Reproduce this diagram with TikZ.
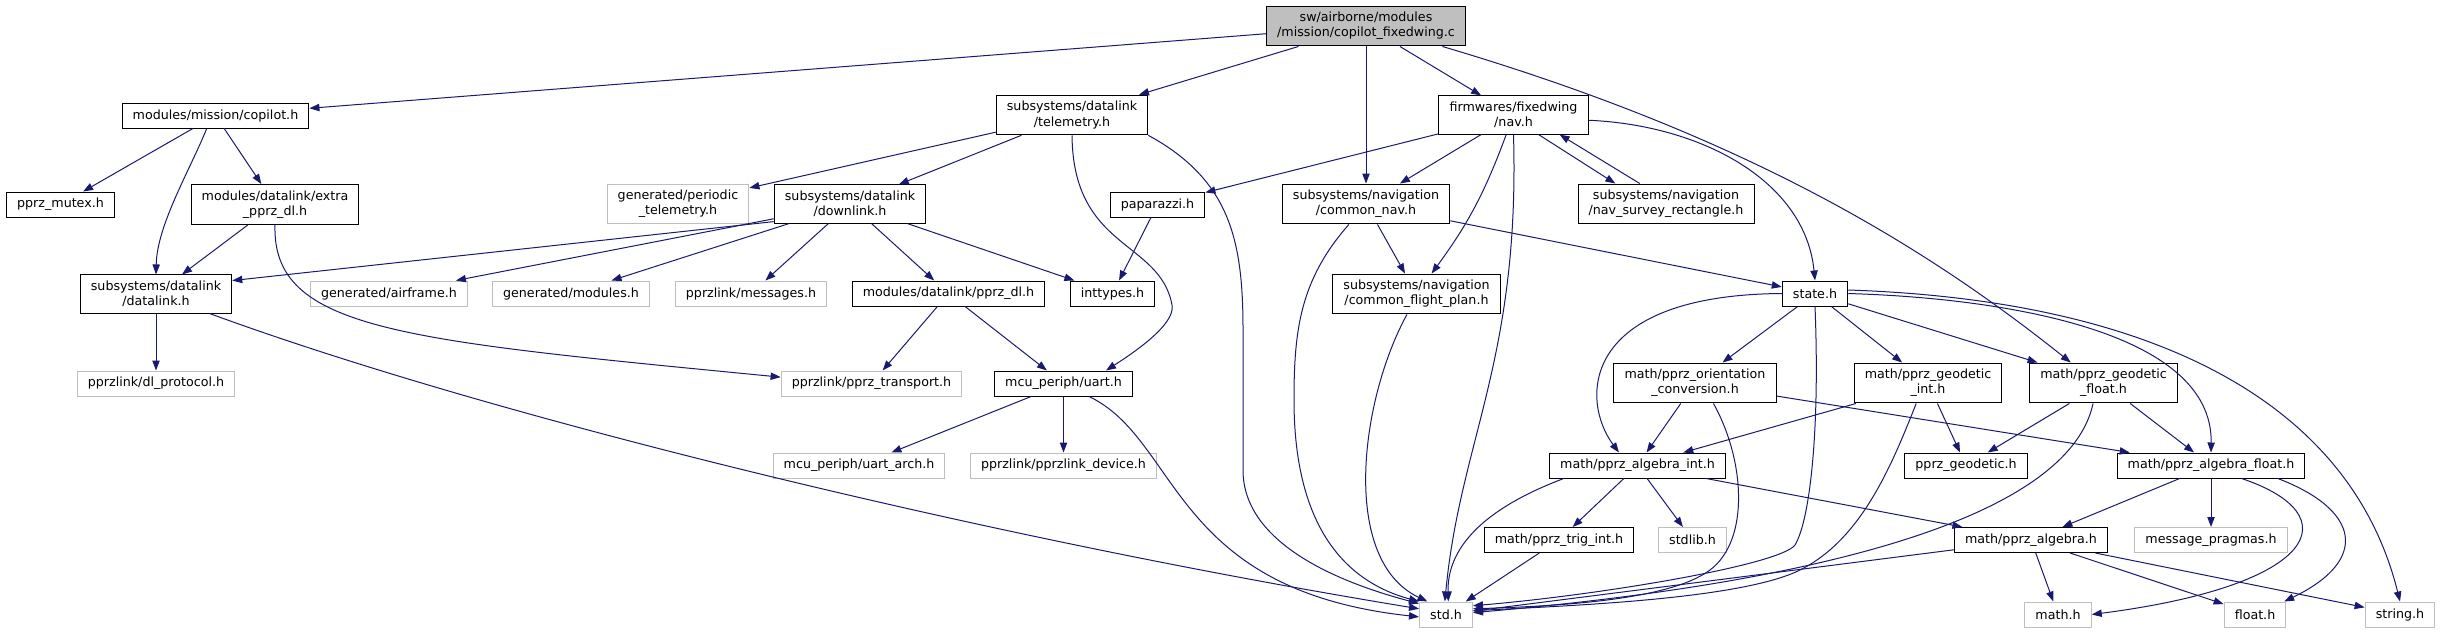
\documentclass[tikz,border=0pt]{standalone}
\usepackage{fontspec}
\setmainfont{DejaVu Sans}
\usetikzlibrary{arrows.meta}

\definecolor{navyedge}{HTML}{191970}
\definecolor{grisdoc}{HTML}{BFBFBF}

\begin{document}
\begin{tikzpicture}[x=0.75pt, y=-0.75pt,
    fbox/.style={rectangle, draw=black, fill=white, line width=0.75pt, align=center,
        font=\fontsize{9.5}{11.5}\selectfont, inner xsep=8pt, inner ysep=4.5pt,
        minimum height=18.75pt},
    undoc/.style={fbox, draw=grisdoc},
    mainfile/.style={fbox, fill=grisdoc},
    inc/.style={draw=navyedge, line width=0.75pt, -{Triangle[length=7.5pt, width=5.5pt]}}]

    \useasboundingbox (0,0) rectangle (2441,633);

    % Archivo principal
    \node[mainfile] (fixedwing) at (1366,26) {sw/airborne/modules\\/mission/copilot\_fixedwing.c};

    % Primer nivel
    \node[fbox] (copilot) at (215.5,115.5) {modules/mission/copilot.h};
    \node[fbox] (telemetry) at (1072,115) {subsystems/datalink\\/telemetry.h};
    \node[fbox] (navh) at (1513.5,115) {firmwares/fixedwing\\/nav.h};

    % Segundo nivel
    \node[fbox] (mutex) at (60.5,204.5) {pprz\_mutex.h};
    \node[fbox] (extradl) at (275,204.5) {modules/datalink/extra\\\_pprz\_dl.h};
    \node[undoc] (periodic) at (678,204) {generated/periodic\\\_telemetry.h};
    \node[fbox] (downlink) at (850,204) {subsystems/datalink\\/downlink.h};
    \node[fbox] (paparazzi) at (1157.5,204.5) {paparazzi.h};
    \node[fbox] (commonnav) at (1366,204) {subsystems/navigation\\/common\_nav.h};
    \node[fbox] (survey) at (1666,204) {subsystems/navigation\\/nav\_survey\_rectangle.h};

    % Tercer nivel
    \node[fbox] (datalink) at (156,294) {subsystems/datalink\\/datalink.h};
    \node[undoc] (airframe) at (389,293.5) {generated/airframe.h};
    \node[undoc] (modulesh) at (571,293.5) {generated/modules.h};
    \node[undoc] (messages) at (751,293.5) {pprzlink/messages.h};
    \node[fbox] (pprzdl) at (948.5,293.5) {modules/datalink/pprz\_dl.h};
    \node[fbox] (inttypes) at (1112.5,293.5) {inttypes.h};
    \node[fbox] (flightplan) at (1416.5,294) {subsystems/navigation\\/common\_flight\_plan.h};
    \node[fbox] (state) at (1815,293.5) {state.h};

    % Cuarto nivel
    \node[undoc] (dlproto) at (156,383.5) {pprzlink/dl\_protocol.h};
    \node[undoc] (transport) at (871.5,383.5) {pprzlink/pprz\_transport.h};
    \node[fbox] (uart) at (1063.5,383.5) {mcu\_periph/uart.h};
    \node[fbox] (orient) at (1695,383) {math/pprz\_orientation\\\_conversion.h};
    \node[fbox] (geoint) at (1928,383) {math/pprz\_geodetic\\\_int.h};
    \node[fbox] (geofloat) at (2103.5,383) {math/pprz\_geodetic\\\_float.h};

    % Quinto nivel
    \node[undoc] (uartarch) at (859,465.5) {mcu\_periph/uart\_arch.h};
    \node[undoc] (device) at (1063.5,465.5) {pprzlink/pprzlink\_device.h};
    \node[fbox] (algint) at (1637.5,465.5) {math/pprz\_algebra\_int.h};
    \node[fbox] (geodetic) at (1966,465.5) {pprz\_geodetic.h};
    \node[fbox] (algfloat) at (2211,465.5) {math/pprz\_algebra\_float.h};

    % Sexto nivel
    \node[fbox] (trigint) at (1559,540) {math/pprz\_trig\_int.h};
    \node[undoc] (stdlib) at (1692.5,540) {stdlib.h};
    \node[fbox] (algebra) at (2031,540) {math/pprz\_algebra.h};
    \node[undoc] (pragmas) at (2211,540) {message\_pragmas.h};

    % Hojas
    \node[undoc] (stdh) at (1446,614.5) {std.h};
    \node[undoc] (mathh) at (2058,614.5) {math.h};
    \node[undoc] (floath) at (2255,614.5) {float.h};
    \node[undoc] (stringh) at (2400,614.5) {string.h};

    % Desde el archivo principal
    \draw[inc] (fixedwing) -- (copilot);
    \draw[inc] (fixedwing) -- (telemetry);
    \draw[inc] (fixedwing) -- (commonnav);
    \draw[inc] (fixedwing) -- (navh);
    \draw[inc] (fixedwing.-15) .. controls (1742,135) and (1921,243) .. (geofloat.148);

    % copilot.h y datalink
    \draw[inc] (copilot) -- (mutex);
    \draw[inc] (copilot.-124) .. controls (190,170) and (157,225) .. (datalink.north);
    \draw[inc] (copilot) -- (extradl);
    \draw[inc] (extradl) -- (datalink);
    \draw[inc] (extradl.south) .. controls (272,330) and (400,340) .. (transport.176);
    \draw[inc] (datalink) -- (dlproto);
    \draw[inc] (datalink.-20) .. controls (500,420) and (1000,540) .. (stdh.168);

    % telemetry.h
    \draw[inc] (telemetry) -- (periodic);
    \draw[inc] (telemetry) -- (downlink);
    \draw[inc] (telemetry.south) .. controls (1073,250) and (1160,240) .. (1172,305)
        .. controls (1176,325) and (1130,355) .. (uart.17);
    \draw[inc] (telemetry.south east) .. controls (1230,180) and (1243,240) .. (1243,330)
        -- (1243,470) .. controls (1243,540) and (1330,580) .. (stdh.158);

    % downlink.h
    \draw[inc] (downlink.193) -- (datalink.10);
    \draw[inc] (downlink) -- (airframe);
    \draw[inc] (downlink) -- (modulesh);
    \draw[inc] (downlink) -- (messages);
    \draw[inc] (downlink) -- (pprzdl);
    \draw[inc] (downlink) -- (inttypes);
    \draw[inc] (pprzdl) -- (transport);
    \draw[inc] (pprzdl) -- (uart);
    \draw[inc] (paparazzi) -- (inttypes);

    % uart.h
    \draw[inc] (uart) -- (uartarch);
    \draw[inc] (uart) -- (device);
    \draw[inc] (uart.-27) .. controls (1180,440) and (1170,590) .. (stdh.185);

    % nav.h
    \draw[inc] (navh) -- (paparazzi);
    \draw[inc] (navh) -- (commonnav);
    \draw[inc] (navh) to[bend left=8] (flightplan);
    \draw[inc] (navh.south) .. controls (1520,360) and (1460,440) .. (stdh.95);
    \draw[inc] (navh.-38) -- (survey.158);
    \draw[inc] (survey.142) -- (navh.-23);
    \draw[inc] (navh.-4) .. controls (1700,125) and (1805,180) .. (state.north);

    % common_nav.h
    \draw[inc] (commonnav) -- (flightplan);
    \draw[inc] (commonnav.-130) .. controls (1300,280) and (1294,330) .. (1294,400)
        .. controls (1294,520) and (1340,580) .. (stdh.north west);
    \draw[inc] (commonnav) -- (state);
    \draw[inc] (flightplan.-115) .. controls (1360,400) and (1340,560) .. (stdh.145);

    % state.h
    \draw[inc] (state) -- (orient);
    \draw[inc] (state.west) .. controls (1580,295) and (1580,400) .. (algint.145);
    \draw[inc] (state.south) .. controls (1820,430) and (1810,520) .. (1795,545)
        .. controls (1780,565) and (1600,595) .. (stdh.18);
    \draw[inc] (state) -- (geoint);
    \draw[inc] (state) -- (geofloat);
    \draw[inc] (state.east) .. controls (2000,298) and (2213,330) .. (algfloat.north);
    \draw[inc] (state.6) .. controls (2150,300) and (2350,400) .. (stringh.north);

    % math/pprz_orientation_conversion.h
    \draw[inc] (orient) -- (algint);
    \draw[inc] (orient.-48) .. controls (1745,460) and (1750,540) .. (1710,570)
        .. controls (1670,600) and (1560,606) .. (stdh.12);
    \draw[inc] (orient) -- (algfloat);

    % geodesia
    \draw[inc] (geoint) -- (algint);
    \draw[inc] (geoint) -- (geodetic);
    \draw[inc] (geoint.-120) .. controls (1890,470) and (1860,540) .. (1800,570)
        .. controls (1740,600) and (1560,606) .. (stdh.8);
    \draw[inc] (geofloat) -- (geodetic);
    \draw[inc] (geofloat) -- (algfloat);
    \draw[inc] (geofloat.-117) .. controls (2070,510) and (1850,580) .. (stdh.4);

    % algebra
    \draw[inc] (algint) -- (trigint);
    \draw[inc] (algint) -- (stdlib);
    \draw[inc] (algint.-170) .. controls (1480,510) and (1447,550) .. (stdh.80);
    \draw[inc] (algint) -- (algebra);
    \draw[inc] (trigint) -- (stdh);
    \draw[inc] (algfloat) -- (algebra);
    \draw[inc] (algfloat) -- (pragmas);
    \draw[inc] (algfloat.-23) .. controls (2350,515) and (2320,585) .. (mathh.east);
    \draw[inc] (algfloat.-11) .. controls (2360,510) and (2370,560) .. (floath.24);
    \draw[inc] (algebra) -- (stdh);
    \draw[inc] (algebra) -- (mathh);
    \draw[inc] (algebra) -- (floath);
    \draw[inc] (algebra) -- (stringh);

\end{tikzpicture}
\end{document}
